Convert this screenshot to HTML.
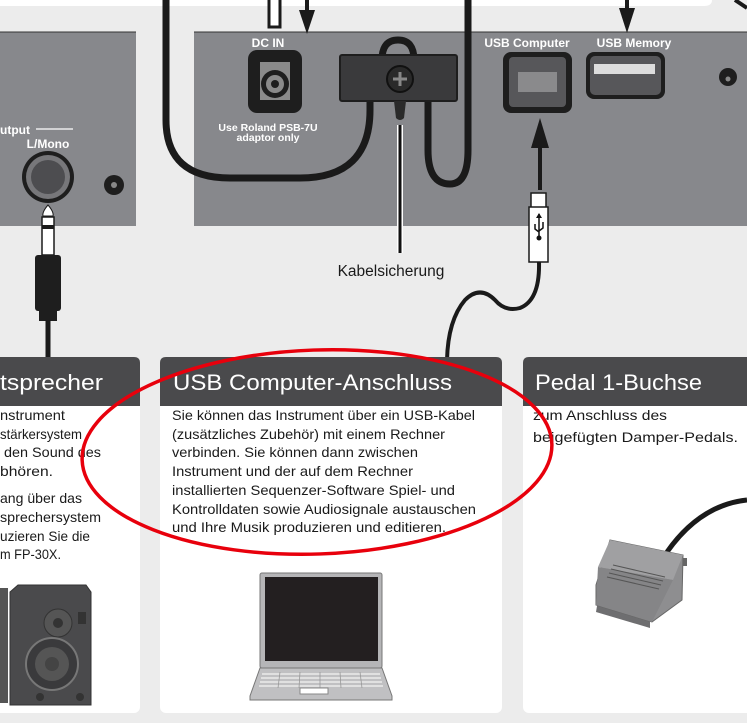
<!DOCTYPE html>
<html><head><meta charset="utf-8"><style>
html,body{margin:0;padding:0;background:#ececec;}
svg{display:block;font-family:"Liberation Sans",sans-serif;}
</style></head><body>
<svg width="747" height="723" viewBox="0 0 747 723" xmlns="http://www.w3.org/2000/svg">
<rect width="747" height="723" fill="#ececec"/>
<path d="M0 0 H712 V0 Q712 6 704 6 H0 Z" fill="#fff"/>
<!-- panels -->
<rect x="0" y="32" width="136" height="194" fill="#87888c"/>
<rect x="194" y="32" width="553" height="194" fill="#87888c"/>
<line x1="194" y1="32" x2="747" y2="32" stroke="#333" stroke-width="1"/>
<line x1="0" y1="32" x2="136" y2="32" stroke="#333" stroke-width="1"/>

<!-- cables top -->
<path d="M166 0 V120 Q166 178 230 178 H300 Q370 178 370 110 V100" fill="none" stroke="#1a1a1a" stroke-width="7"/>
<path d="M468 0 V150 Q468 184 450 184 Q428 184 428 150 V100" fill="none" stroke="#1a1a1a" stroke-width="7"/>
<path d="M382 60 Q382 40 398 40 Q414 40 414 60" fill="none" stroke="#1a1a1a" stroke-width="7"/>
<!-- white plug top -->
<rect x="269" y="-2" width="11" height="29" fill="#fff" stroke="#1a1a1a" stroke-width="3"/>
<!-- arrows top -->
<line x1="307" y1="0" x2="307" y2="12" stroke="#1a1a1a" stroke-width="4"/>
<path d="M299 10 L315 10 L307 34 Z" fill="#1a1a1a"/>
<line x1="627" y1="0" x2="627" y2="12" stroke="#1a1a1a" stroke-width="4"/>
<path d="M619 8 L635 8 L627 33 Z" fill="#1a1a1a"/>
<path d="M735 0 L747 8" stroke="#1a1a1a" stroke-width="4"/>

<!-- DC IN -->
<text x="268" y="47" fill="#fff" font-size="12" font-weight="bold" text-anchor="middle">DC IN</text>
<rect x="248" y="50" width="54" height="63" rx="9" fill="#1e1e1e"/>
<rect x="260" y="62" width="30" height="38" fill="#8a8a8a"/>
<circle cx="275" cy="84" r="14" fill="#1e1e1e"/>
<circle cx="275" cy="84" r="9" fill="#8a8a8a"/>
<circle cx="275" cy="84" r="4" fill="#1e1e1e"/>
<text x="268" y="131" fill="#fff" font-size="10.5" font-weight="bold" text-anchor="middle">Use Roland PSB-7U</text>
<text x="268" y="141" fill="#fff" font-size="10.5" font-weight="bold" text-anchor="middle">adaptor only</text>
<!-- bracket -->
<rect x="340" y="55" width="117" height="46" rx="2" fill="#3a3a3c" stroke="#1e1e1e" stroke-width="2"/>
<circle cx="400" cy="79" r="13" fill="#2a2a2a" stroke="#111" stroke-width="2"/>
<path d="M393 79 H407 M400 72 V86" stroke="#888" stroke-width="3"/>
<path d="M394 101 L406 101 L404 118 Q400 122 396 118 Z" fill="#2a2a2a"/>
<line x1="400" y1="125" x2="400" y2="253" stroke="#fff" stroke-width="6"/>
<line x1="400" y1="125" x2="400" y2="253" stroke="#111" stroke-width="3"/>
<text x="391" y="276" fill="#1a1a1a" font-size="15.5" text-anchor="middle">Kabelsicherung</text>

<!-- USB computer -->
<text x="527" y="47" fill="#fff" font-size="12" font-weight="bold" text-anchor="middle">USB Computer</text>
<rect x="503" y="52" width="69" height="61" rx="8" fill="#1e1e1e"/>
<rect x="509" y="57" width="57" height="50" rx="4" fill="#57575a"/>
<rect x="518" y="72" width="39" height="20" fill="#8a8a8c"/>
<text x="634" y="47" fill="#fff" font-size="12" font-weight="bold" text-anchor="middle">USB Memory</text>
<rect x="586" y="52" width="79" height="47" rx="8" fill="#1e1e1e"/>
<rect x="590" y="56" width="71" height="39" rx="5" fill="#57575a"/>
<rect x="594" y="64" width="61" height="10" fill="#ddd"/>
<circle cx="728" cy="77" r="9" fill="#1e1e1e"/>
<circle cx="728" cy="79" r="2.5" fill="#888"/>
<!-- USB arrow & plug -->
<line x1="540" y1="140" x2="540" y2="190" stroke="#1a1a1a" stroke-width="4"/>
<path d="M531 148 L549 148 L540 118 Z" fill="#1a1a1a"/>
<rect x="531" y="193" width="15" height="15" fill="#fff" stroke="#1a1a1a" stroke-width="1.5"/>
<rect x="529" y="207" width="19" height="55" fill="#fff" stroke="#1a1a1a" stroke-width="1.5"/>
<path d="M539 214 V238 M535 224 L535 229 L539 232 M543 222 V228 L539 231" stroke="#111" stroke-width="1.5" fill="none"/>
<path d="M536 218 L539 213 L542 218 Z" fill="#111"/>
<circle cx="539" cy="238" r="2.5" fill="#111"/>
<path d="M539 262 Q540 300 520 308 Q505 312 495 300 Q480 285 465 300 Q448 320 447 360" fill="none" stroke="#1a1a1a" stroke-width="4"/>

<!-- left panel -->
<text x="0" y="134" fill="#fff" font-size="12" font-weight="bold">utput</text>
<line x1="36" y1="129" x2="73" y2="129" stroke="#fff" stroke-width="1.2"/>
<text x="48" y="148" fill="#fff" font-size="12" font-weight="bold" text-anchor="middle">L/Mono</text>
<circle cx="48" cy="177" r="26" fill="#1e1e1e"/>
<circle cx="48" cy="177" r="22" fill="#77777a"/>
<circle cx="48" cy="177" r="17" fill="#4d4d50"/>
<circle cx="114" cy="185" r="10" fill="#1e1e1e"/>
<circle cx="114" cy="185" r="3" fill="#888"/>
<path d="M48 205 Q42 212 43 216 H53 Q54 212 48 205 Z" fill="#fff" stroke="#1a1a1a"/>
<rect x="42" y="217" width="12" height="38" fill="#fff" stroke="#1a1a1a" stroke-width="1.5"/>
<rect x="42" y="225" width="12" height="4" fill="#1a1a1a"/>
<rect x="35" y="255" width="26" height="56" rx="3" fill="#1e1e1e"/>
<rect x="39" y="311" width="18" height="10" fill="#1e1e1e"/>
<line x1="48" y1="320" x2="48" y2="360" stroke="#1a1a1a" stroke-width="5"/>

<!-- cards -->
<rect x="-10" y="357" width="150" height="356" rx="6" fill="#fff"/>
<path d="M-10 357 H134 Q140 357 140 363 V406 H-10 Z" fill="#4a4a4c"/>
<rect x="160" y="357" width="342" height="356" rx="6" fill="#fff"/>
<path d="M166 357 H496 Q502 357 502 363 V406 H160 V363 Q160 357 166 357 Z" fill="#4a4a4c"/>
<rect x="523" y="357" width="240" height="356" rx="6" fill="#fff"/>
<path d="M529 357 H747 V406 H523 V363 Q523 357 529 357 Z" fill="#4a4a4c"/>

<g fill="#fff" font-size="22">
<text x="0" y="390" textLength="103" lengthAdjust="spacingAndGlyphs">tsprecher</text>
<text x="173" y="390" textLength="279" lengthAdjust="spacingAndGlyphs">USB Computer-Anschluss</text>
<text x="535" y="390" textLength="167" lengthAdjust="spacingAndGlyphs">Pedal 1-Buchse</text>
</g>
<g fill="#1a1a1a" font-size="14">
<text x="0" y="420" textLength="65" lengthAdjust="spacingAndGlyphs">nstrument</text>
<text x="0" y="439" textLength="82" lengthAdjust="spacingAndGlyphs">stärkersystem</text>
<text x="4" y="457" textLength="97" lengthAdjust="spacingAndGlyphs">den Sound des</text>
<text x="0" y="476" textLength="53" lengthAdjust="spacingAndGlyphs">bhören.</text>
<text x="0" y="503" textLength="82" lengthAdjust="spacingAndGlyphs">ang über das</text>
<text x="0" y="522" textLength="101" lengthAdjust="spacingAndGlyphs">sprechersystem</text>
<text x="0" y="541" textLength="90" lengthAdjust="spacingAndGlyphs">uzieren Sie die</text>
<text x="0" y="559" textLength="61" lengthAdjust="spacingAndGlyphs">m FP-30X.</text>

<text x="172" y="420" textLength="303" lengthAdjust="spacingAndGlyphs">Sie können das Instrument über ein USB-Kabel</text>
<text x="172" y="439" textLength="273" lengthAdjust="spacingAndGlyphs">(zusätzliches Zubehör) mit einem Rechner</text>
<text x="172" y="457" textLength="246" lengthAdjust="spacingAndGlyphs">verbinden. Sie können dann zwischen</text>
<text x="172" y="476" textLength="241" lengthAdjust="spacingAndGlyphs">Instrument und der auf dem Rechner</text>
<text x="172" y="495" textLength="283" lengthAdjust="spacingAndGlyphs">installierten Sequenzer-Software Spiel- und</text>
<text x="172" y="514" textLength="304" lengthAdjust="spacingAndGlyphs">Kontrolldaten sowie Audiosignale austauschen</text>
<text x="172" y="532" textLength="274" lengthAdjust="spacingAndGlyphs">und Ihre Musik produzieren und editieren.</text>

<text x="533" y="420" textLength="134" lengthAdjust="spacingAndGlyphs">zum Anschluss des</text>
<text x="533" y="442" textLength="205" lengthAdjust="spacingAndGlyphs">beigefügten Damper-Pedals.</text>
</g>

<!-- speakers -->
<rect x="-6" y="588" width="14" height="115" fill="#555"/>
<path d="M10 592 L18 585 H86 L91 592 V705 H10 Z" fill="#4a4a4c" stroke="#333"/>
<circle cx="58" cy="623" r="14" fill="#555" stroke="#333"/>
<circle cx="58" cy="623" r="5" fill="#333"/>
<circle cx="52" cy="664" r="26" fill="#3a3a3c" stroke="#777" stroke-width="2"/>
<circle cx="52" cy="664" r="17" fill="#555"/>
<circle cx="52" cy="664" r="7" fill="#444"/>
<circle cx="40" cy="697" r="4" fill="#333"/>
<circle cx="80" cy="697" r="4" fill="#333"/>
<rect x="78" y="612" width="8" height="12" fill="#333"/>

<!-- laptop -->
<rect x="260" y="573" width="122" height="95" rx="2" fill="#b5b5b7" stroke="#777"/>
<rect x="265" y="577" width="113" height="84" fill="#231f20"/>
<path d="M260 668 H382 L392 696 V700 H250 V696 Z" fill="#c0c0c2" stroke="#777"/>
<g stroke="#fff" stroke-width="1">
<line x1="262" y1="674" x2="380" y2="674"/>
<line x1="261" y1="678" x2="381" y2="678"/>
<line x1="260" y1="682" x2="382" y2="682"/>
<line x1="259" y1="686" x2="383" y2="686"/>
</g>
<g stroke="#999" stroke-width="0.8">
<line x1="280" y1="672" x2="278" y2="688"/><line x1="300" y1="672" x2="299" y2="688"/>
<line x1="320" y1="672" x2="320" y2="688"/><line x1="340" y1="672" x2="341" y2="688"/>
<line x1="360" y1="672" x2="362" y2="688"/>
</g>
<rect x="300" y="688" width="28" height="6" fill="#fff" stroke="#888"/>

<!-- pedal -->
<path d="M667 552 Q700 505 747 500" fill="none" stroke="#1a1a1a" stroke-width="5"/>
<path d="M598 600 L650 615 L650 628 L596 612 Z" fill="#6e6e70"/>
<path d="M610 540 L683 555 L682 600 L652 622 L596 605 L596 585 Z" fill="#8e8e90" stroke="#666"/>
<path d="M610 540 L683 555 L673 580 L598 567 Z" fill="#a0a0a2"/>
<path d="M598 567 L673 580 L652 622 L596 605 Z" fill="#858587"/>
<g stroke="#555" stroke-width="1">
<line x1="613" y1="565" x2="665" y2="577"/>
<line x1="611" y1="569" x2="663" y2="581"/>
<line x1="609" y1="573" x2="661" y2="585"/>
<line x1="607" y1="577" x2="659" y2="589"/>
</g>
<rect x="683" y="558" width="4" height="8" fill="#666"/>

<!-- red ellipse -->
<ellipse cx="317" cy="452" rx="235" ry="102" transform="rotate(-2 317 452)" fill="none" stroke="#e8000c" stroke-width="3.5"/>
</svg>
</body></html>
